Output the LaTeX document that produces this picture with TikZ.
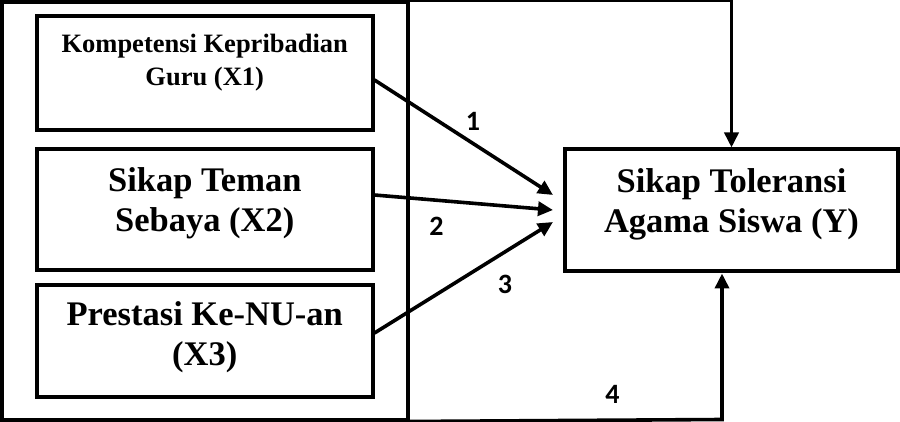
\documentclass[tikz,border=0pt]{standalone}
\usepackage{fontspec}
\setmainfont{Liberation Serif}
\newfontfamily\numfont{Carlito}
\usetikzlibrary{arrows.meta}
\begin{document}
\begin{tikzpicture}[x=1pt,y=-1pt,
  box/.style={draw, line width=4pt, align=center, inner sep=0pt},
  bigtext/.style={font=\bfseries\fontsize{34.5}{40}\selectfont},
  smalltext/.style={font=\bfseries\fontsize{26.5}{33}\selectfont},
  conn/.style={line width=3.6pt, line join=miter, -{Triangle[length=15pt,width=14pt]}},
  num/.style={font=\numfont\bfseries\fontsize{28}{28}\selectfont, inner sep=0pt}
]
\useasboundingbox (0,0) rectangle (900,422);
% outer frame
\node[box, minimum width=405.5pt, minimum height=417.5pt] (outer) at (204.75,210.75) {};
% independent variable boxes
\node[box, smalltext, minimum width=335.5pt, minimum height=114.5pt] (x1) at (204.75,73.25) {Kompetensi Kepribadian\\Guru (X1)\\[-6pt]};
\node[box, bigtext, minimum width=335.5pt, minimum height=121pt] (x2) at (204.75,210) {Sikap Teman\\Sebaya (X2)\\[-20pt]};
\node[box, bigtext, minimum width=335.5pt, minimum height=111.5pt] (x3) at (204.75,341.25) {Prestasi Ke-NU-an\\(X3)\\[-24pt]};
% dependent variable
\node[box, bigtext, minimum width=333pt, minimum height=122pt] (y) at (731.5,210.5) {Sikap Toleransi\\Agama Siswa (Y)\\[-20pt]};
% arrow targets
\coordinate (t1) at (553,195);
\coordinate (t2) at (553,210);
\coordinate (t3) at (553,222);
\coordinate (b4) at (722,419.5);
% connectors
\draw[conn] (x1.east |- 0,80) -- (t1);
\draw[conn] (x2.east |- 0,195) -- (t2);
\draw[conn] (x3.east |- 0,333) -- (t3);
\draw[conn] (outer.north east) -| (y.north);
\draw[conn] (outer.south east) -- (b4) -- (b4 |- y.south);
% labels
\node[num] (n1) at (473,121.5) {1};
\node[num] (n2) at (436.5,226) {2};
\node[num] (n3) at (505,284) {3};
\node[num] (n4) at (612.5,394) {4};
\end{tikzpicture}
\end{document}
